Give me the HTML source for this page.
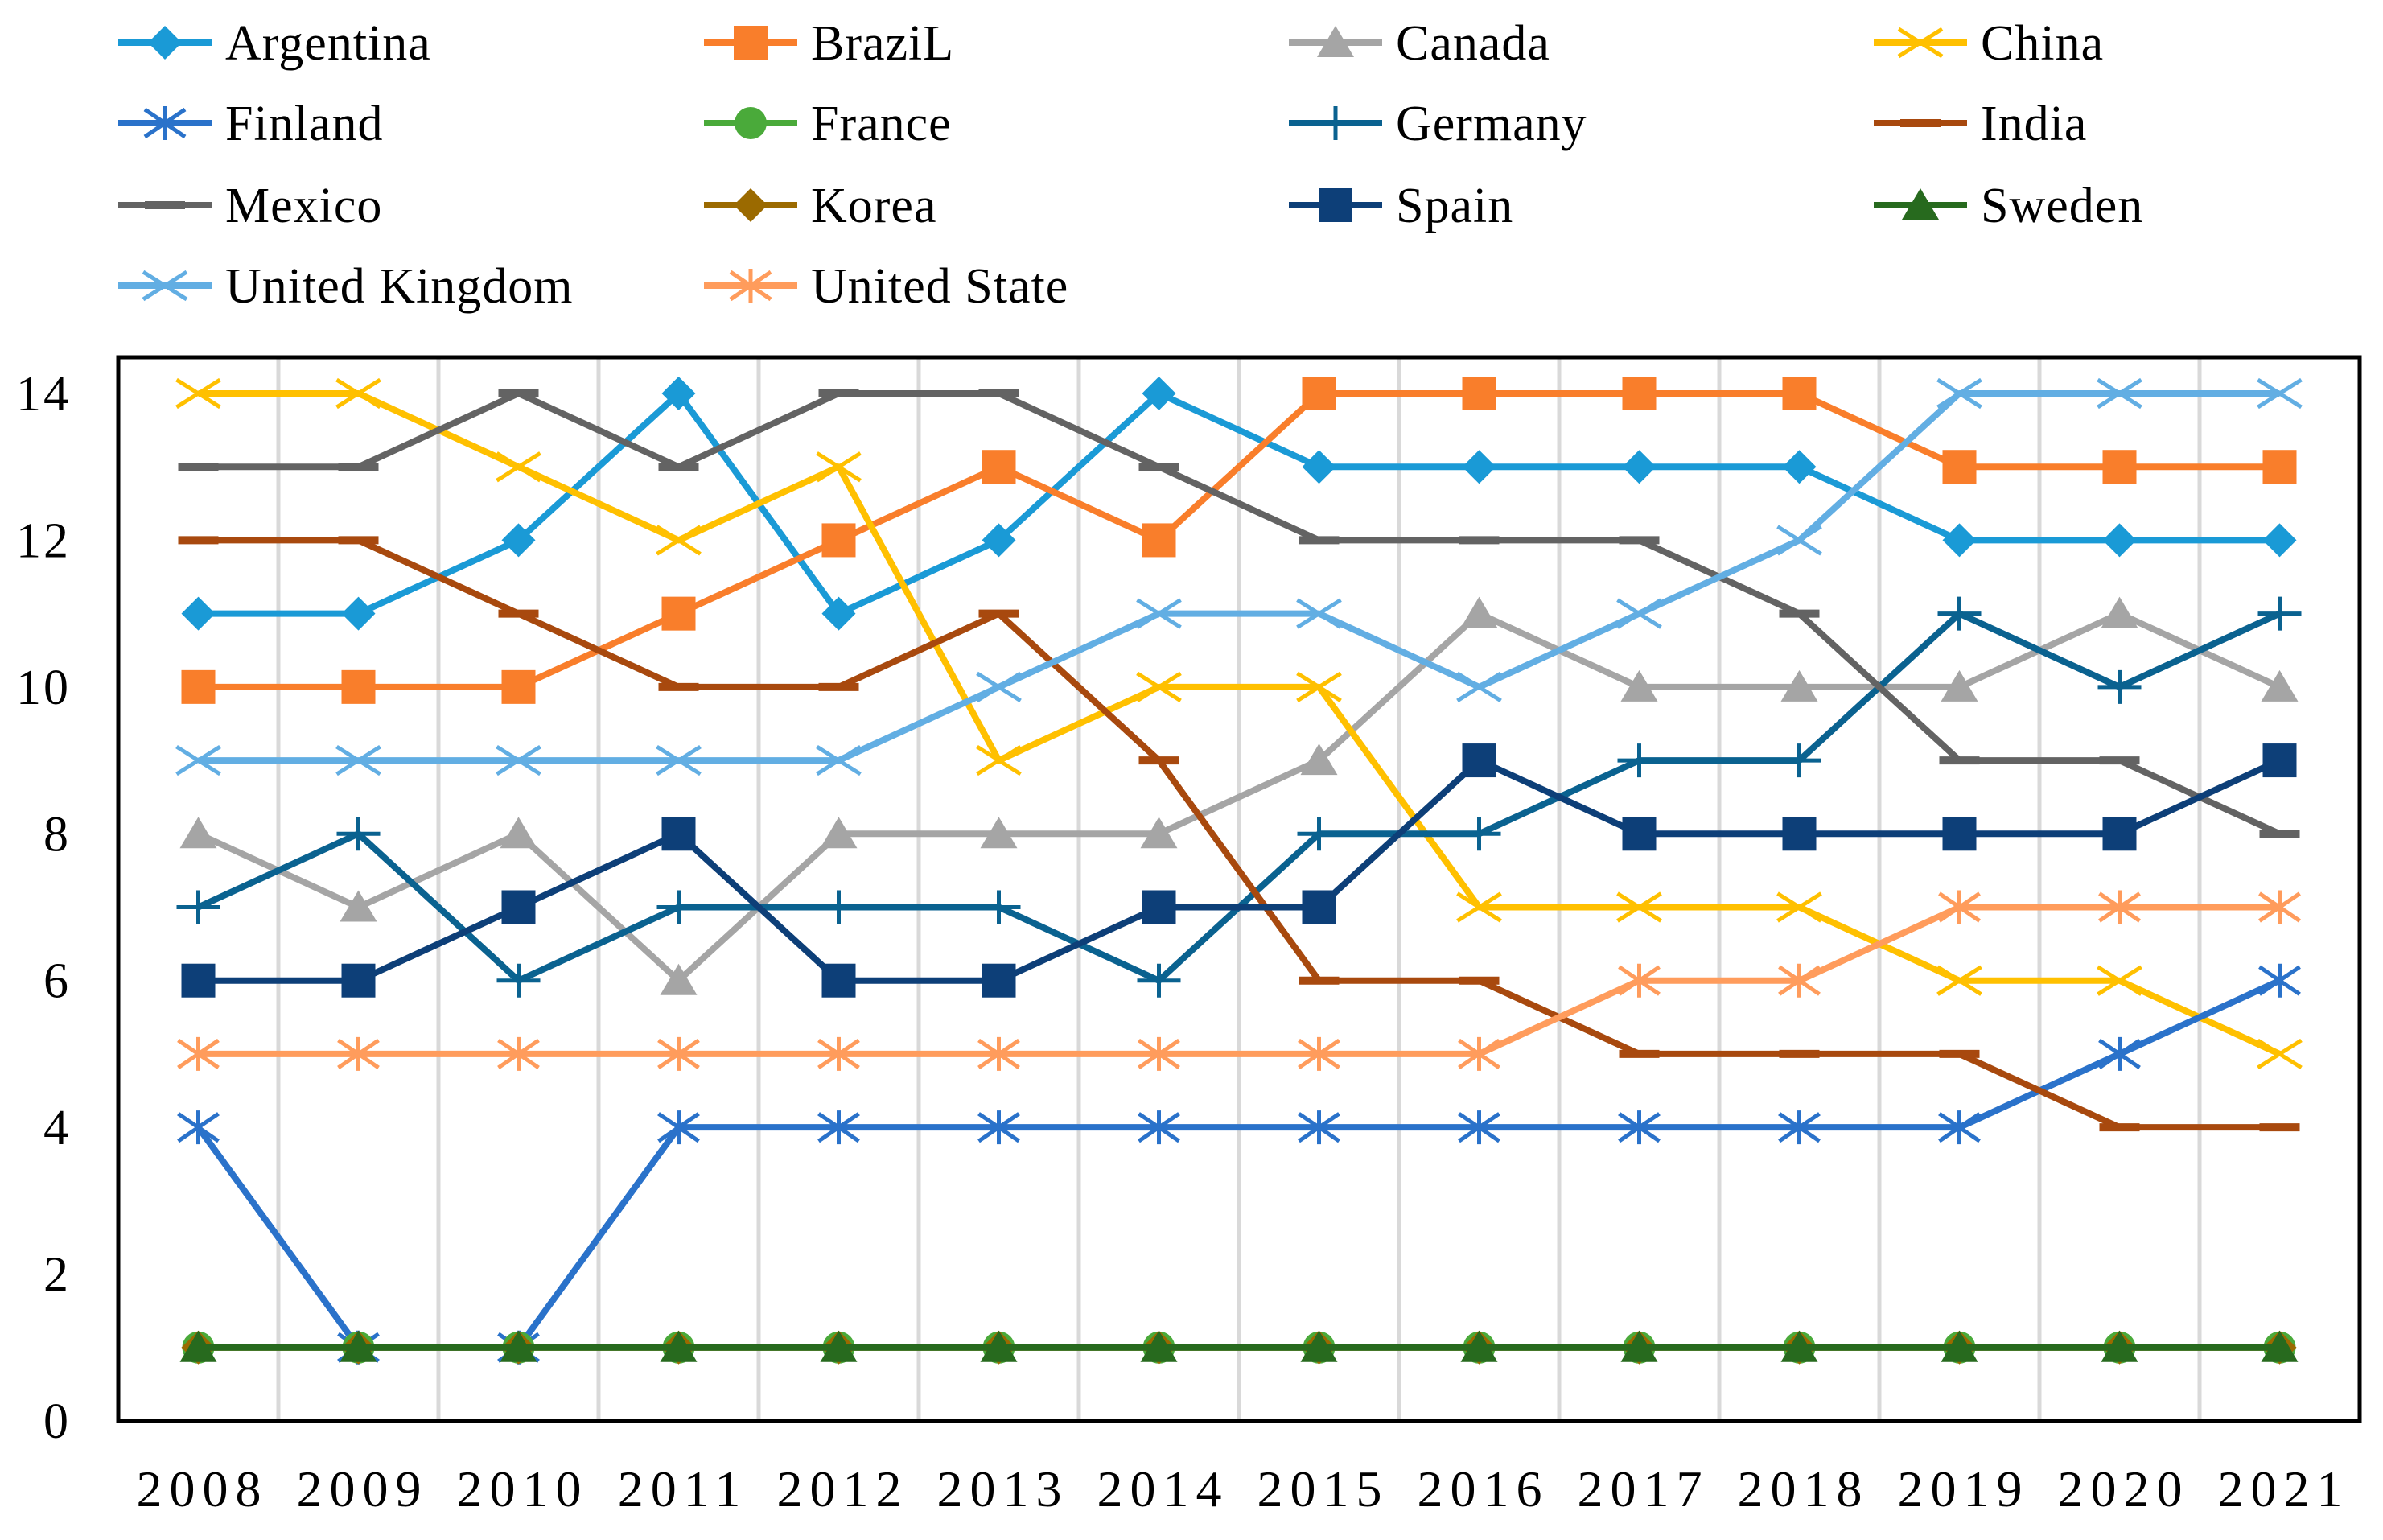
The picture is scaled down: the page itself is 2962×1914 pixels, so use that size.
<!DOCTYPE html>
<html><head><meta charset="utf-8"><style>
html,body{margin:0;padding:0;background:#fff}
svg{display:block;font-family:"Liberation Serif",serif}
</style></head><body>
<svg id="chart" width="2962" height="1914" viewBox="0 0 2962 1914" xmlns="http://www.w3.org/2000/svg">
<rect width="2962" height="1914" fill="#fff"/>
<g id="grid"></g><g id="series"></g><g id="axes"></g><g id="legend"></g>
</svg>
<script>
const years=["2008","2009","2010","2011","2012","2013","2014","2015","2016","2017","2018","2019","2020","2021"];
const yTicks=[0,2,4,6,8,10,12,14];
const names=["Argentina","BraziL","Canada","China","Finland","France","Germany","India","Mexico","Korea","Spain","Sweden","United Kingdom","United State"];
const argentina=[11,11,12,14,11,12,14,13,13,13,13,12,12,12];
const brazil=[10,10,10,11,12,13,12,14,14,14,14,13,13,13];
const canada=[8,7,8,6,8,8,8,9,11,10,10,10,11,10];
const china=[14,14,13,12,13,9,10,10,7,7,7,6,6,5];
const finland=[4,1,1,4,4,4,4,4,4,4,4,4,5,6];
const france=[1,1,1,1,1,1,1,1,1,1,1,1,1,1];
const germany=[7,8,6,7,7,7,6,8,8,9,9,11,10,11];
const india=[12,12,11,10,10,11,9,6,6,5,5,5,4,4];
const mexico=[13,13,14,13,14,14,13,12,12,12,11,9,9,8];
const korea=[1,1,1,1,1,1,1,1,1,1,1,1,1,1];
const spain=[6,6,7,8,6,6,7,7,9,8,8,8,8,9];
const sweden=[1,1,1,1,1,1,1,1,1,1,1,1,1,1];
const uk=[9,9,9,9,9,10,11,11,10,11,12,14,14,14];
const us=[5,5,5,5,5,5,5,5,5,6,6,7,7,7];
const seriesVals=[argentina,brazil,canada,china,finland,france,germany,india,mexico,korea,spain,sweden,uk,us];
const colors=["#1A9AD6","#F97E2B","#A5A5A5","#FFC000","#2A72CA","#4AAA3A","#0A6290","#A8490E","#636363","#9B6A00","#0D3F78","#276A1E","#62AEE3","#FF9C5C"];
const markers=["diamond","square","triangle","x","star","circle","plus","dash","dash","diamond","square","triangle","x","star"];

const NS="http://www.w3.org/2000/svg";
const L=147,R=2933,T=444,B=1766,yMax=14;
const band=(R-L)/years.length;
const xs=i=>L+band*(i+0.5);
const ys=v=>B-(B-489)*v/yMax;
function mk(tag,attrs,parent){const e=document.createElementNS(NS,tag);for(const k in attrs)e.setAttribute(k,attrs[k]);parent.appendChild(e);return e;}
const grid=document.getElementById('grid'),axes=document.getElementById('axes'),ser=document.getElementById('series'),leg=document.getElementById('legend');

for(let i=1;i<years.length;i++){
  const gl=mk('line',{x1:L+band*i,x2:L+band*i,y1:T,y2:B,stroke:'#d9d9d9','stroke-width':5},grid);
  
  
}
const frame=mk('rect',{x:L,y:T,width:R-L,height:B-T,fill:'none',stroke:'#000','stroke-width':5},axes);


yTicks.forEach(t=>{
  const tx=mk('text',{x:88,y:ys(t)+21,'text-anchor':'end','font-size':62,'letter-spacing':3,fill:'#000'},axes);
  tx.textContent=t;
  
  
});
years.forEach((y,i)=>{
  const tx=mk('text',{x:xs(i)+5,y:1872,'text-anchor':'middle','font-size':64,'letter-spacing':9,fill:'#000'},axes);
  tx.textContent=y;
  
  
});

function marker(type,x,y,c,g){
  const s=21;
  if(type==='diamond')mk('polygon',{points:`${x},${y-s} ${x+s},${y} ${x},${y+s} ${x-s},${y}`,fill:c},g);
  else if(type==='square')mk('rect',{x:x-s,y:y-s,width:2*s,height:2*s,fill:c},g);
  else if(type==='triangle')mk('polygon',{points:`${x},${y-s} ${x+s+2},${y+s-3} ${x-s-2},${y+s-3}`,fill:c},g);
  else if(type==='circle')mk('circle',{cx:x,cy:y,r:s-1,fill:c},g);
  else if(type==='x'){mk('path',{d:`M${x-s-6},${y-s+4}L${x+s+6},${y+s-4}M${x-s-6},${y+s-4}L${x+s+6},${y-s+4}`,stroke:c,'stroke-width':5,fill:'none'},g);}
  else if(type==='star'){mk('path',{d:`M${x-s-4},${y-s+4}L${x+s+4},${y+s-4}M${x-s-4},${y+s-4}L${x+s+4},${y-s+4}M${x},${y-s}L${x},${y+s}`,stroke:c,'stroke-width':5,fill:'none'},g);}
  else if(type==='plus'){mk('path',{d:`M${x-s-6},${y}L${x+s+6},${y}M${x},${y-s}L${x},${y+s}`,stroke:c,'stroke-width':5,fill:'none'},g);}
  else if(type==='dash'){mk('path',{d:`M${x-s-4},${y}L${x+s+4},${y}`,stroke:c,'stroke-width':10,fill:'none'},g);}
}

seriesVals.forEach((vals,k)=>{
  const g=mk('g',{},ser);
  
  
  const pts=vals.map((v,i)=>xs(i)+','+ys(v)).join(' ');
  mk('polyline',{points:pts,fill:'none',stroke:colors[k],'stroke-width':8,'stroke-linejoin':'round'},g);
  vals.forEach((v,i)=>marker(markers[k],xs(i),ys(v),colors[k],g));
});

const colX=[147,875,1602,2329],rowY=[53,153,255,355];
names.forEach((n,k)=>{
  const x=colX[k%4],y=rowY[Math.floor(k/4)];
  const g=mk('g',{},leg);
  
  
  mk('line',{x1:x,x2:x+116,y1:y,y2:y,stroke:colors[k],'stroke-width':8},g);
  marker(markers[k],x+58,y,colors[k],g);
  const tx=mk('text',{x:x+133,y:y+21,'font-size':62,'letter-spacing':1,fill:'#000'},g);
  tx.textContent=n;
});
</script>
</body></html>
